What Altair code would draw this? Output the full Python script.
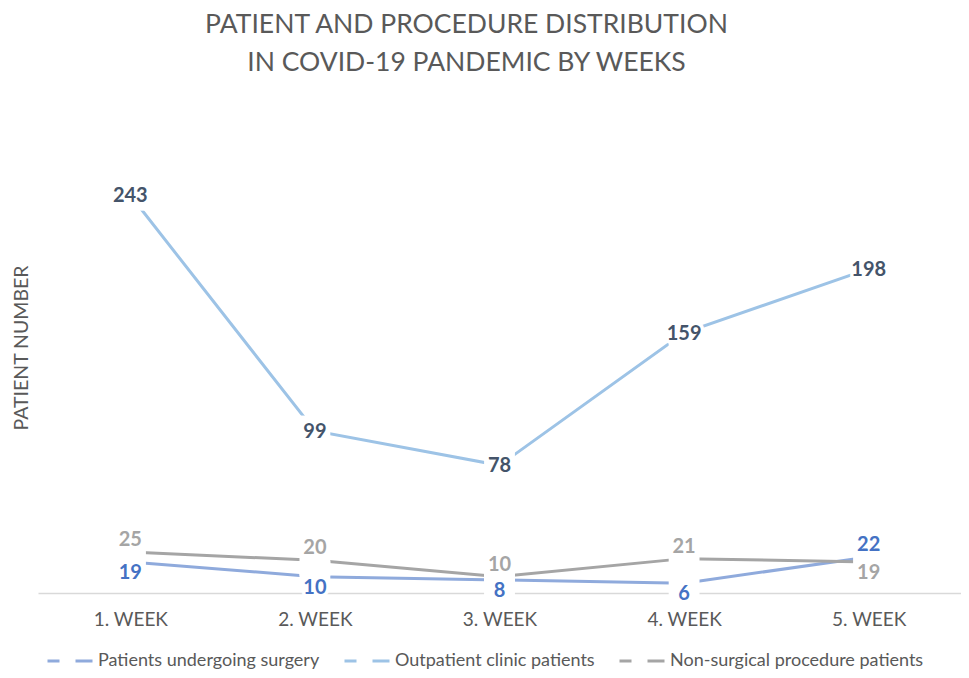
import altair as alt
import pandas as pd

weeks = ["1. WEEK", "2. WEEK", "3. WEEK", "4. WEEK", "5. WEEK"]
surgery = [19, 10, 8, 6, 22]
outpatient = [243, 99, 78, 159, 198]
nonsurgical = [25, 20, 10, 21, 19]

S1 = "Patients undergoing surgery"
S2 = "Outpatient clinic patients"
S3 = "Non-surgical procedure patients"
series_order = [S1, S2, S3]
line_colors = ["#8FAADC", "#9DC3E6", "#A5A5A5"]
label_colors = {S1: "#4472C4", S2: "#44546A", S3: "#A5A5A5"}

rows = []
for i, w in enumerate(weeks):
    s, o, n = surgery[i], outpatient[i], nonsurgical[i]
    rows.append({"week": w, "series": S1, "value": s, "pos": "above" if s > n else "below"})
    rows.append({"week": w, "series": S2, "value": o, "pos": "center"})
    rows.append({"week": w, "series": S3, "value": n, "pos": "above" if n >= s else "below"})
df = pd.DataFrame(rows)
df["lc"] = df["series"].map(label_colors)

FONT = "Lato"
GREY = "#595959"

x_enc = alt.X("week:N", sort=weeks,
              scale=alt.Scale(type="point", padding=0.5, domain=weeks),
              axis=alt.Axis(title=None, labelAngle=0, labelFont=FONT, labelFontSize=19,
                            labelColor=GREY, labelPadding=17, ticks=False,
                            domainColor="#D9D9D9", domainWidth=1.5, zindex=0))
y_enc = alt.Y("value:Q", scale=alt.Scale(domain=[0, 300], nice=False, zero=True),
              axis=alt.Axis(title="PATIENT NUMBER", titleFont=FONT, titleFontSize=19.5,
                            titleFontWeight="normal", titleColor=GREY, titlePadding=7,
                            labels=False, ticks=False, domain=False, grid=False))

base = alt.Chart(df)

lines = base.mark_line(strokeWidth=3).encode(
    x=x_enc, y=y_enc,
    color=alt.Color("series:N", sort=series_order,
                    scale=alt.Scale(domain=series_order, range=line_colors),
                    legend=alt.Legend(title=None, orient="none", legendX=8, legendY=535,
                                      direction="horizontal", symbolType="stroke",
                                      symbolSize=2025, symbolStrokeWidth=3,
                                      symbolDash=[12, 16, 17, 0],
                                      labelFont=FONT, labelFontSize=18, labelColor=GREY,
                                      labelLimit=400, labelOffset=4, columnPadding=18)),
    detail="series:N",
)

squares = base.mark_point(shape="square", filled=True, color="white", opacity=1,
                          size=950, strokeWidth=0).encode(x=x_enc, y=y_enc)

layers = [lines, squares]
offsets = {"center": 1, "above": -12, "below": 11}
for halo in (True, False):
    for p, d in offsets.items():
        if halo:
            m = base.mark_text(font=FONT, fontSize=20, fontWeight="bold", dy=d,
                               fill="white", stroke="white", strokeWidth=7,
                               strokeJoin="round")
            enc = dict(x=x_enc, y=y_enc, text="value:Q")
        else:
            m = base.mark_text(font=FONT, fontSize=20, fontWeight="bold", dy=d)
            enc = dict(x=x_enc, y=y_enc, text="value:Q",
                       color=alt.Color("lc:N", scale=None))
        layers.append(m.encode(**enc).transform_filter(alt.datum.pos == p))

chart = alt.layer(*layers).properties(
    width=923, height=491,
    background="white",
    title=alt.TitleParams(
        ["PATIENT AND PROCEDURE DISTRIBUTION", "IN COVID-19 PANDEMIC BY WEEKS"],
        font=FONT, fontSize=26.5, fontWeight="normal", color=GREY,
        lineHeight=38, anchor="middle", dx=-33, offset=26),
    autosize=alt.AutoSizeParams(type="none"),
    padding={"left": 30, "top": 94, "right": 0, "bottom": 77},
).configure_view(strokeWidth=0, stroke=None)

chart.save("out.html", embed_options={"renderer": "svg", "actions": False})
